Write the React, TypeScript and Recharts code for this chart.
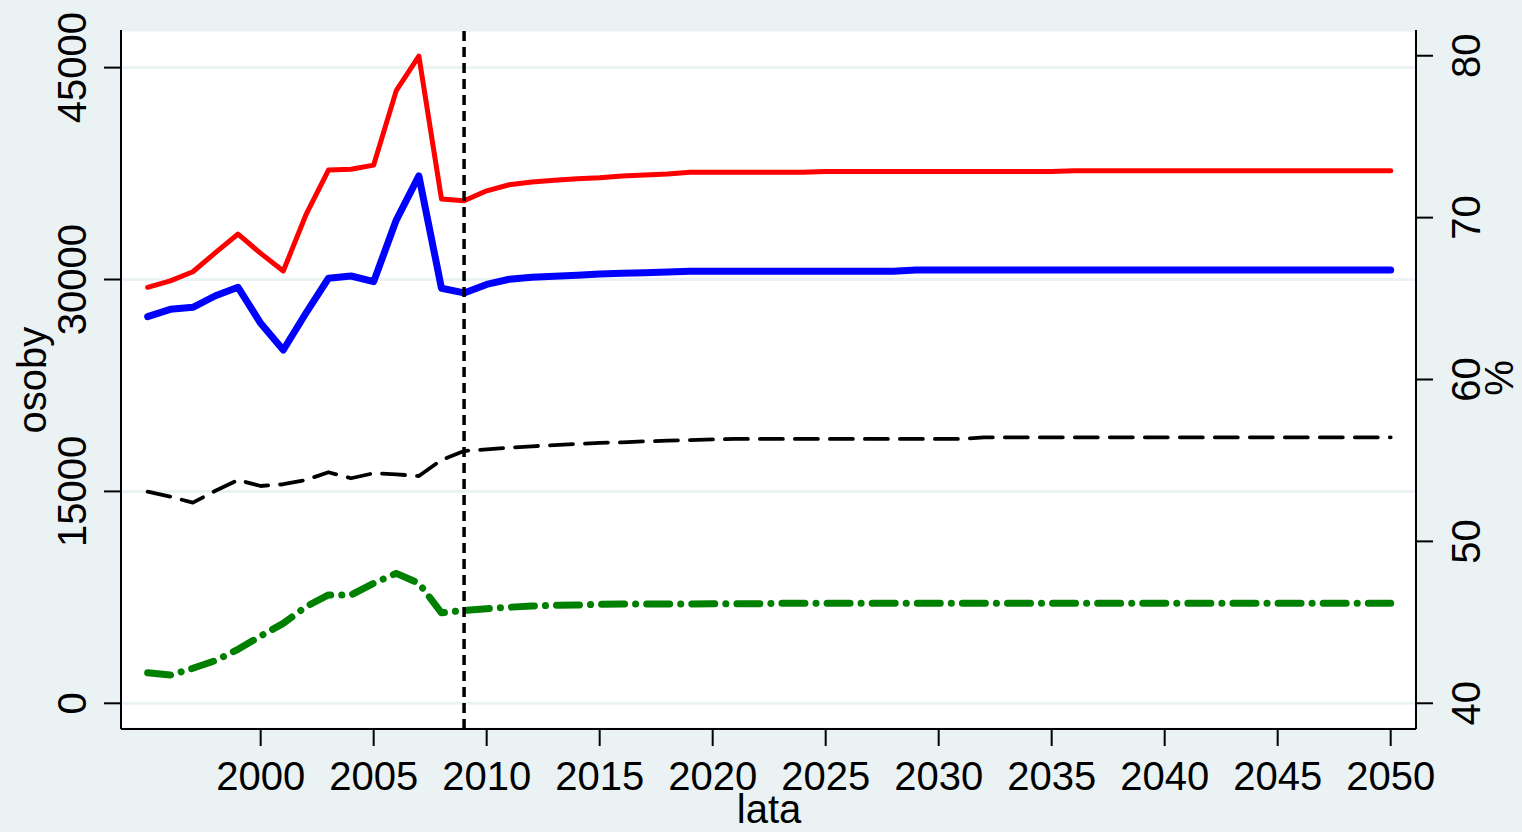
import React from 'react';
import { LineChart, Line, XAxis, YAxis, CartesianGrid, ReferenceLine, Label } from 'recharts';

const FONT = '"Liberation Sans", Arial, Helvetica, sans-serif';

const years = [
  1995, 1996, 1997, 1998, 1999, 2000, 2001, 2002, 2003, 2004,
  2005, 2006, 2007, 2008, 2009, 2010, 2011, 2012, 2013, 2014,
  2015, 2016, 2017, 2018, 2019, 2020, 2021, 2022, 2023, 2024,
  2025, 2026, 2027, 2028, 2029, 2030, 2031, 2032, 2033, 2034,
  2035, 2036, 2037, 2038, 2039, 2040, 2041, 2042, 2043, 2044,
  2045, 2046, 2047, 2048, 2049, 2050,
];

// red series (osoby)
const redSeries = [
  29450, 29900, 30550, 31900, 33220, 31850, 30600, 34570, 37750, 37800,
  38100, 43370, 45820, 35700, 35570, 36280, 36710, 36900, 37020, 37140,
  37210, 37330, 37400, 37470, 37590, 37590, 37590, 37590, 37590, 37590,
  37650, 37650, 37650, 37650, 37650, 37650, 37650, 37650, 37650, 37650,
  37650, 37700, 37700, 37700, 37700, 37700, 37700, 37700, 37700, 37700,
  37700, 37700, 37700, 37700, 37700, 37700,
];

// blue series (osoby)
const blueSeries = [
  27370, 27890, 28030, 28850, 29450, 26900, 25010, 27610, 30090, 30250,
  29850, 34210, 37330, 29380, 29050, 29650, 30020, 30160, 30230, 30300,
  30390, 30440, 30480, 30530, 30580, 30580, 30580, 30580, 30580, 30580,
  30580, 30580, 30580, 30580, 30670, 30670, 30670, 30670, 30670, 30670,
  30670, 30670, 30670, 30670, 30670, 30670, 30670, 30670, 30670, 30670,
  30670, 30670, 30670, 30670, 30670, 30670,
];

// black dashed series (%)
const blackSeries = [
  53.07, 52.76, 52.39, 53.13, 53.79, 53.42, 53.53, 53.79, 54.27, 53.9,
  54.21, 54.14, 54.04, 55.03, 55.58, 55.69, 55.79, 55.87, 55.95, 56.02,
  56.08, 56.12, 56.18, 56.22, 56.26, 56.3, 56.33, 56.33, 56.33, 56.33,
  56.33, 56.33, 56.33, 56.33, 56.33, 56.33, 56.33, 56.43, 56.43, 56.43,
  56.43, 56.43, 56.43, 56.43, 56.43, 56.43, 56.43, 56.43, 56.43, 56.43,
  56.43, 56.43, 56.43, 56.43, 56.43, 56.43,
];

// green dash-dot series (osoby)
const greenSeries = [
  2170, 2000, 2480, 3020, 3820, 4760, 5660, 6840, 7670, 7670,
  8500, 9200, 8500, 6410, 6580, 6690, 6800, 6890, 6940, 6960,
  7010, 7030, 7030, 7030, 7030, 7050, 7050, 7050, 7090, 7090,
  7090, 7090, 7090, 7090, 7090, 7090, 7090, 7090, 7090, 7090,
  7090, 7090, 7090, 7090, 7090, 7090, 7090, 7090, 7090, 7090,
  7090, 7090, 7090, 7090, 7090, 7090,
];

const xTicks = [2000, 2005, 2010, 2015, 2020, 2025, 2030, 2035, 2040, 2045, 2050];
const leftTicks = [0, 15000, 30000, 45000];
const rightTicks = [40, 50, 60, 70, 80];
const markerYear = 2009;

const data = years.map((year, i) => ({
  year,
  red: redSeries[i],
  blue: blueSeries[i],
  black: blackSeries[i],
  green: greenSeries[i],
}));

const LeftTick = (props: any) => {
  const { y, payload } = props;
  const bx = 86;
  return (
    <text x={bx} y={y} transform={`rotate(-90, ${bx}, ${y})`} textAnchor="middle"
      fontSize={40} fontFamily={FONT} fill="#000">{payload.value}</text>
  );
};

const RightTick = (props: any) => {
  const { y, payload } = props;
  const bx = 1480;
  return (
    <text x={bx} y={y} transform={`rotate(-90, ${bx}, ${y})`} textAnchor="middle"
      fontSize={40} fontFamily={FONT} fill="#000">{payload.value}</text>
  );
};

const BottomTick = (props: any) => {
  const { x, payload } = props;
  return (
    <text x={x} y={790} textAnchor="middle" fontSize={40} fontFamily={FONT} fill="#000">
      {payload.value}
    </text>
  );
};

export default function App() {
  return (
    <div style={{ position: 'absolute', left: 0, top: 0, width: 1522, height: 832, background: '#EAF2F3' }}>
      <LineChart width={1522} height={832} data={data} margin={{ top: 30, right: 0, bottom: 0, left: 0 }}>
        <CartesianGrid yAxisId="left" vertical={false} horizontal={true} stroke="#EAF2F3"
          strokeWidth={3} fill="#ffffff" fillOpacity={1} />
        <XAxis dataKey="year" type="number" domain={[1993.82, 2051.12]} allowDataOverflow
          ticks={xTicks} height={103} tickSize={17} interval={0}
          axisLine={{ stroke: '#000', strokeWidth: 2 }} tickLine={{ stroke: '#000', strokeWidth: 2 }}
          tick={BottomTick}>
          <Label content={() => (
            <text x={769} y={823} textAnchor="middle" fontSize={40} fontFamily={FONT} fill="#000">lata</text>
          )} />
        </XAxis>
        <YAxis yAxisId="left" orientation="left" type="number" domain={[-1819, 47663]} allowDataOverflow
          ticks={leftTicks} width={121} tickSize={17} interval={0}
          axisLine={{ stroke: '#000', strokeWidth: 2 }} tickLine={{ stroke: '#000', strokeWidth: 2 }}
          tick={LeftTick}>
          <Label content={() => (
            <text x={46} y={380} transform="rotate(-90, 46, 380)" textAnchor="middle" fontSize={40}
              fontFamily={FONT} fill="#000">osoby</text>
          )} />
        </YAxis>
        <YAxis yAxisId="right" orientation="right" type="number" domain={[38.41, 81.59]} allowDataOverflow
          ticks={rightTicks} width={106} tickSize={17} interval={0}
          axisLine={{ stroke: '#000', strokeWidth: 2 }} tickLine={{ stroke: '#000', strokeWidth: 2 }}
          tick={RightTick}>
          <Label content={() => (
            <text x={1513} y={378} transform="rotate(-90, 1513, 378)" textAnchor="middle" fontSize={40}
              fontFamily={FONT} fill="#000">%</text>
          )} />
        </YAxis>
        <Line yAxisId="left" type="linear" dataKey="red" stroke="#ff0000" strokeWidth={5}
          dot={false} activeDot={false} isAnimationActive={false} strokeLinecap="round" strokeLinejoin="round" />
        <Line yAxisId="left" type="linear" dataKey="blue" stroke="#0000ff" strokeWidth={7}
          dot={false} activeDot={false} isAnimationActive={false} strokeLinecap="round" strokeLinejoin="round" />
        <Line yAxisId="right" type="linear" dataKey="black" stroke="#000000" strokeWidth={3.8}
          strokeDasharray="23 12" dot={false} activeDot={false} isAnimationActive={false}
          strokeLinecap="round" strokeLinejoin="round" />
        <Line yAxisId="left" type="linear" dataKey="green" stroke="#008000" strokeWidth={7}
          strokeDasharray="23 11 0.1 11" dot={false} activeDot={false} isAnimationActive={false}
          strokeLinecap="round" strokeLinejoin="round" />
        <ReferenceLine yAxisId="left" x={markerYear} stroke="#000" strokeWidth={3.5} strokeDasharray="10 6" />
      </LineChart>
    </div>
  );
}
